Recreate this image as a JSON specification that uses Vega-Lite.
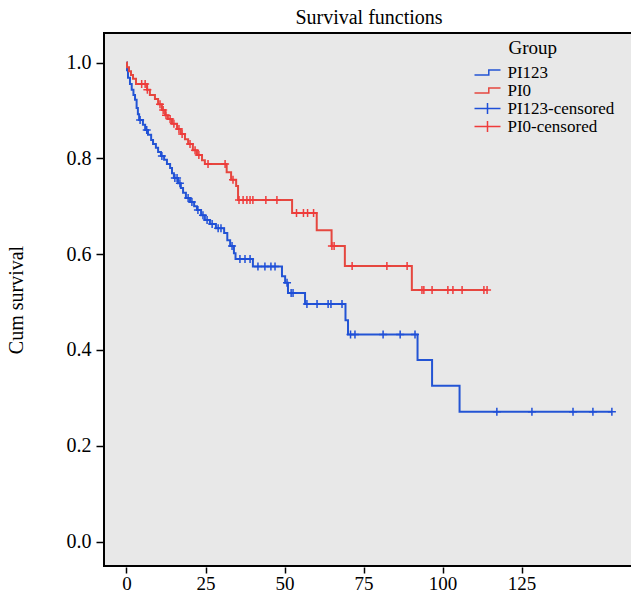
{
  "$schema": "https://vega.github.io/schema/vega-lite/v6.json",
  "autosize": {"type": "none"},
  "padding": {"left": 104, "top": 33, "right": 0, "bottom": 29},
  "width": 530,
  "height": 533,
  "background": "white",
  "title": {"text": "Survival functions", "font": "Liberation Serif", "fontSize": 20, "fontWeight": "normal", "color": "black", "anchor": "middle", "baseline": "alphabetic", "offset": -11},
  "config": {
    "view": {"fill": "#e8e8e8", "stroke": "black", "strokeWidth": 2},
    "axis": {"labelFont": "Liberation Serif", "labelFontSize": 20, "labelColor": "black", "titleFont": "Liberation Serif", "titleFontSize": 20, "titleFontWeight": "normal", "titleColor": "black", "tickColor": "black", "tickWidth": 1.5, "domain": false, "grid": false}
  },
  "datasets": {
    "curve": [
      {"g": "PI123", "t": 0, "s": 1},
      {"g": "PI123", "t": 0.16, "s": 0.984},
      {"g": "PI123", "t": 0.47, "s": 0.968},
      {"g": "PI123", "t": 1.1, "s": 0.955},
      {"g": "PI123", "t": 1.65, "s": 0.943},
      {"g": "PI123", "t": 2.2, "s": 0.932},
      {"g": "PI123", "t": 2.7, "s": 0.922},
      {"g": "PI123", "t": 3.2, "s": 0.905},
      {"g": "PI123", "t": 3.6, "s": 0.892},
      {"g": "PI123", "t": 4.0, "s": 0.880},
      {"g": "PI123", "t": 5.2, "s": 0.870},
      {"g": "PI123", "t": 5.9, "s": 0.859},
      {"g": "PI123", "t": 6.8, "s": 0.849},
      {"g": "PI123", "t": 7.8, "s": 0.838},
      {"g": "PI123", "t": 8.4, "s": 0.830},
      {"g": "PI123", "t": 9.3, "s": 0.822},
      {"g": "PI123", "t": 10.0, "s": 0.813},
      {"g": "PI123", "t": 10.9, "s": 0.805},
      {"g": "PI123", "t": 11.9, "s": 0.797},
      {"g": "PI123", "t": 12.8, "s": 0.788},
      {"g": "PI123", "t": 13.8, "s": 0.780},
      {"g": "PI123", "t": 14.4, "s": 0.769},
      {"g": "PI123", "t": 15.0, "s": 0.759},
      {"g": "PI123", "t": 16.3, "s": 0.748},
      {"g": "PI123", "t": 17.2, "s": 0.738},
      {"g": "PI123", "t": 17.9, "s": 0.728},
      {"g": "PI123", "t": 18.8, "s": 0.717},
      {"g": "PI123", "t": 20.1, "s": 0.709},
      {"g": "PI123", "t": 21.4, "s": 0.700},
      {"g": "PI123", "t": 22.3, "s": 0.692},
      {"g": "PI123", "t": 23.6, "s": 0.681},
      {"g": "PI123", "t": 24.8, "s": 0.671},
      {"g": "PI123", "t": 26.4, "s": 0.663},
      {"g": "PI123", "t": 28.3, "s": 0.654},
      {"g": "PI123", "t": 30.9, "s": 0.644},
      {"g": "PI123", "t": 31.9, "s": 0.629},
      {"g": "PI123", "t": 32.8, "s": 0.617},
      {"g": "PI123", "t": 34.0, "s": 0.602},
      {"g": "PI123", "t": 34.5, "s": 0.590},
      {"g": "PI123", "t": 40.0, "s": 0.574},
      {"g": "PI123", "t": 49.2, "s": 0.554},
      {"g": "PI123", "t": 50.2, "s": 0.540},
      {"g": "PI123", "t": 51.1, "s": 0.519},
      {"g": "PI123", "t": 56.5, "s": 0.496},
      {"g": "PI123", "t": 69.3, "s": 0.462},
      {"g": "PI123", "t": 70.1, "s": 0.432},
      {"g": "PI123", "t": 92.1, "s": 0.379},
      {"g": "PI123", "t": 96.7, "s": 0.325},
      {"g": "PI123", "t": 105.4, "s": 0.271},
      {"g": "PI123", "t": 153.6, "s": 0.271},
      {"g": "PI0", "t": 0, "s": 1},
      {"g": "PI0", "t": 0.16, "s": 0.990},
      {"g": "PI0", "t": 0.79, "s": 0.982},
      {"g": "PI0", "t": 1.42, "s": 0.974},
      {"g": "PI0", "t": 2.06, "s": 0.966},
      {"g": "PI0", "t": 3.0, "s": 0.955},
      {"g": "PI0", "t": 6.5, "s": 0.943},
      {"g": "PI0", "t": 7.4, "s": 0.932},
      {"g": "PI0", "t": 9.0, "s": 0.924},
      {"g": "PI0", "t": 10.0, "s": 0.913},
      {"g": "PI0", "t": 11.2, "s": 0.901},
      {"g": "PI0", "t": 12.2, "s": 0.890},
      {"g": "PI0", "t": 13.1, "s": 0.882},
      {"g": "PI0", "t": 14.4, "s": 0.872},
      {"g": "PI0", "t": 16.0, "s": 0.861},
      {"g": "PI0", "t": 17.2, "s": 0.851},
      {"g": "PI0", "t": 18.5, "s": 0.840},
      {"g": "PI0", "t": 19.5, "s": 0.830},
      {"g": "PI0", "t": 21.0, "s": 0.817},
      {"g": "PI0", "t": 22.3, "s": 0.807},
      {"g": "PI0", "t": 23.9, "s": 0.796},
      {"g": "PI0", "t": 24.8, "s": 0.788},
      {"g": "PI0", "t": 31.7, "s": 0.771},
      {"g": "PI0", "t": 33.1, "s": 0.755},
      {"g": "PI0", "t": 34.7, "s": 0.742},
      {"g": "PI0", "t": 35.3, "s": 0.713},
      {"g": "PI0", "t": 52.4, "s": 0.686},
      {"g": "PI0", "t": 60.2, "s": 0.650},
      {"g": "PI0", "t": 64.9, "s": 0.617},
      {"g": "PI0", "t": 69.1, "s": 0.575},
      {"g": "PI0", "t": 90.3, "s": 0.525},
      {"g": "PI0", "t": 114.1, "s": 0.525}
    ],
    "cens": [
      {"g": "PI123-censored", "t": 4.3, "s": 0.880},
      {"g": "PI123-censored", "t": 6.4, "s": 0.859},
      {"g": "PI123-censored", "t": 11.2, "s": 0.805},
      {"g": "PI123-censored", "t": 15.3, "s": 0.759},
      {"g": "PI123-censored", "t": 16.0, "s": 0.759},
      {"g": "PI123-censored", "t": 16.9, "s": 0.748},
      {"g": "PI123-censored", "t": 19.5, "s": 0.717},
      {"g": "PI123-censored", "t": 20.7, "s": 0.709},
      {"g": "PI123-censored", "t": 22.6, "s": 0.692},
      {"g": "PI123-censored", "t": 24.2, "s": 0.681},
      {"g": "PI123-censored", "t": 25.5, "s": 0.671},
      {"g": "PI123-censored", "t": 27.1, "s": 0.663},
      {"g": "PI123-censored", "t": 29.0, "s": 0.654},
      {"g": "PI123-censored", "t": 29.9, "s": 0.654},
      {"g": "PI123-censored", "t": 33.4, "s": 0.617},
      {"g": "PI123-censored", "t": 35.9, "s": 0.590},
      {"g": "PI123-censored", "t": 37.5, "s": 0.590},
      {"g": "PI123-censored", "t": 39.1, "s": 0.590},
      {"g": "PI123-censored", "t": 41.6, "s": 0.574},
      {"g": "PI123-censored", "t": 43.8, "s": 0.574},
      {"g": "PI123-censored", "t": 45.7, "s": 0.574},
      {"g": "PI123-censored", "t": 47.0, "s": 0.574},
      {"g": "PI123-censored", "t": 50.8, "s": 0.540},
      {"g": "PI123-censored", "t": 52.1, "s": 0.519},
      {"g": "PI123-censored", "t": 52.7, "s": 0.519},
      {"g": "PI123-censored", "t": 57.1, "s": 0.496},
      {"g": "PI123-censored", "t": 60.3, "s": 0.496},
      {"g": "PI123-censored", "t": 63.8, "s": 0.496},
      {"g": "PI123-censored", "t": 64.7, "s": 0.496},
      {"g": "PI123-censored", "t": 68.2, "s": 0.496},
      {"g": "PI123-censored", "t": 70.9, "s": 0.432},
      {"g": "PI123-censored", "t": 72.3, "s": 0.432},
      {"g": "PI123-censored", "t": 81.2, "s": 0.432},
      {"g": "PI123-censored", "t": 86.6, "s": 0.432},
      {"g": "PI123-censored", "t": 91.3, "s": 0.432},
      {"g": "PI123-censored", "t": 117.2, "s": 0.271},
      {"g": "PI123-censored", "t": 128.3, "s": 0.271},
      {"g": "PI123-censored", "t": 141.3, "s": 0.271},
      {"g": "PI123-censored", "t": 147.6, "s": 0.271},
      {"g": "PI123-censored", "t": 153.6, "s": 0.271},
      {"g": "PI0-censored", "t": 4.8, "s": 0.955},
      {"g": "PI0-censored", "t": 5.9, "s": 0.955},
      {"g": "PI0-censored", "t": 6.6, "s": 0.943},
      {"g": "PI0-censored", "t": 10.6, "s": 0.913},
      {"g": "PI0-censored", "t": 11.6, "s": 0.901},
      {"g": "PI0-censored", "t": 12.5, "s": 0.890},
      {"g": "PI0-censored", "t": 13.8, "s": 0.882},
      {"g": "PI0-censored", "t": 15.0, "s": 0.872},
      {"g": "PI0-censored", "t": 16.6, "s": 0.861},
      {"g": "PI0-censored", "t": 17.6, "s": 0.851},
      {"g": "PI0-censored", "t": 20.1, "s": 0.830},
      {"g": "PI0-censored", "t": 21.7, "s": 0.817},
      {"g": "PI0-censored", "t": 22.9, "s": 0.807},
      {"g": "PI0-censored", "t": 25.8, "s": 0.788},
      {"g": "PI0-censored", "t": 31.2, "s": 0.788},
      {"g": "PI0-censored", "t": 33.7, "s": 0.755},
      {"g": "PI0-censored", "t": 35.6, "s": 0.713},
      {"g": "PI0-censored", "t": 36.9, "s": 0.713},
      {"g": "PI0-censored", "t": 38.1, "s": 0.713},
      {"g": "PI0-censored", "t": 39.1, "s": 0.713},
      {"g": "PI0-censored", "t": 40.0, "s": 0.713},
      {"g": "PI0-censored", "t": 44.1, "s": 0.713},
      {"g": "PI0-censored", "t": 47.6, "s": 0.713},
      {"g": "PI0-censored", "t": 53.8, "s": 0.686},
      {"g": "PI0-censored", "t": 56.0, "s": 0.686},
      {"g": "PI0-censored", "t": 57.3, "s": 0.686},
      {"g": "PI0-censored", "t": 59.2, "s": 0.686},
      {"g": "PI0-censored", "t": 65.0, "s": 0.617},
      {"g": "PI0-censored", "t": 65.7, "s": 0.617},
      {"g": "PI0-censored", "t": 71.4, "s": 0.575},
      {"g": "PI0-censored", "t": 82.4, "s": 0.575},
      {"g": "PI0-censored", "t": 88.8, "s": 0.575},
      {"g": "PI0-censored", "t": 93.5, "s": 0.525},
      {"g": "PI0-censored", "t": 94.1, "s": 0.525},
      {"g": "PI0-censored", "t": 96.7, "s": 0.525},
      {"g": "PI0-censored", "t": 101.7, "s": 0.525},
      {"g": "PI0-censored", "t": 103.3, "s": 0.525},
      {"g": "PI0-censored", "t": 106.2, "s": 0.525},
      {"g": "PI0-censored", "t": 113.1, "s": 0.525},
      {"g": "PI0-censored", "t": 114.1, "s": 0.525}
    ]
  },
  "encoding": {
    "x": {"field": "t", "type": "quantitative", "scale": {"domain": [-7.12, 160.6], "nice": false, "zero": false},
      "axis": {"title": null, "values": [0, 25, 50, 75, 100, 125], "offset": 1, "tickSize": 6, "labelPadding": 1, "labelFontSize": 19}},
    "y": {"field": "s", "type": "quantitative", "scale": {"domain": [-0.0511, 1.0616], "nice": false, "zero": false},
      "axis": {"title": "Cum survival", "values": [0, 0.2, 0.4, 0.6, 0.8, 1.0], "format": ".1f", "tickSize": 8, "labelPadding": 5, "titlePadding": 40}},
    "color": {"field": "g", "type": "nominal",
      "scale": {"domain": ["PI123", "PI0", "PI123-censored", "PI0-censored"], "range": ["#2354d4", "#e5473f", "#1f4fd8", "#ef3b3b"]},
      "legend": {"title": "Group", "orient": "none", "legendX": 375, "legendY": 6,
        "titleFont": "Liberation Serif", "titleFontSize": 19, "titleFontWeight": "normal", "titleColor": "black", "titlePadding": 6,
        "labelFont": "Liberation Serif", "labelFontSize": 17, "labelColor": "black", "labelOffset": 11.5, "rowPadding": 0,
        "encode": {
          "title": {"update": {"dx": {"value": 29.5}}},
          "symbols": {"update": {
            "shape": {"signal": "indexof(['PI123','PI0'], datum.value) >= 0 ? 'M-2.6,0.5H0.26V-0.5H2.6' : 'M-2.6,0H2.6M0,-1.1V1.1'"},
            "size": {"value": 100},
            "strokeWidth": {"value": 1.5},
            "fill": {"value": "transparent"},
            "stroke": {"scale": "color", "field": "value"},
            "opacity": {"value": 1}
          }}
        }}
    }
  },
  "layer": [
    {"data": {"name": "curve"}, "mark": {"type": "line", "interpolate": "step-after", "strokeWidth": 2}},
    {"data": {"name": "cens"}, "mark": {"type": "point", "shape": "M0,-1V1M-1,0H1", "size": 64, "filled": false, "strokeWidth": 1.5, "opacity": 1}}
  ]
}
